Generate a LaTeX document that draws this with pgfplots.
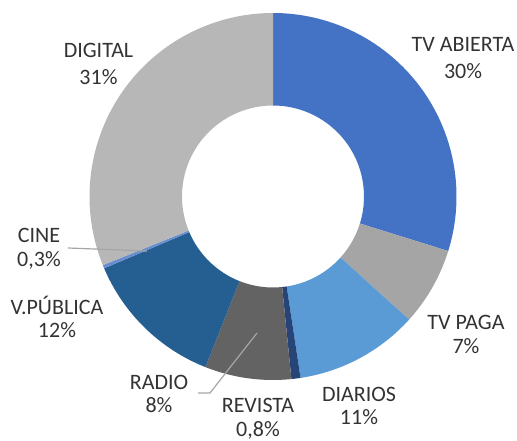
\documentclass[border=0pt]{standalone}
\usepackage{pgfplots}
\pgfplotsset{compat=1.18}
\usepackage{pgfplotstable}
\usepackage{fontspec}
\setmainfont{Carlito}

\definecolor{c1}{HTML}{4472C4}
\definecolor{c2}{HTML}{A5A5A5}
\definecolor{c3}{HTML}{5B9BD5}
\definecolor{c4}{HTML}{264478}
\definecolor{c5}{HTML}{636363}
\definecolor{c6}{HTML}{255E91}
\definecolor{c7}{HTML}{698ED0}
\definecolor{c8}{HTML}{B7B7B7}
\definecolor{txt}{HTML}{333333}
\definecolor{leader}{HTML}{A6A6A6}

\tikzset{lbl/.style={inner sep=0pt, text height=7.1pt, text depth=0pt,
    font=\fontsize{11}{12}\selectfont, text=txt}}

% share in percent, clockwise from 12 o'clock
\pgfplotstableread[col sep=comma]{
name,value,color
TV ABIERTA,29.8,c1
TV PAGA,6.9,c2
DIARIOS,10.9,c3
REVISTA,0.8,c4
RADIO,7.6,c5
V.PUBLICA,12.6,c6
CINE,0.3,c7
DIGITAL,31.1,c8
}\piedata

\newcommand{\lab}[5]{%
  \node[lbl] at (axis cs:#1,#2) {#4};
  \node[lbl] at (axis cs:#1,#3) {#5};}

\begin{document}
\begin{tikzpicture}
\path[use as bounding box] (0,0) rectangle (258.5pt,220pt);
\begin{axis}[
  hide axis,
  x=0.5pt, y=0.5pt,
  xmin=0, xmax=517, ymin=0, ymax=440,
  clip=false,
]
\pgfplotsextra{
  \pgfplotstablegetrowsof{\piedata}
  \pgfmathtruncatemacro\lastrow{\pgfplotsretval-1}
  \gdef\cum{0}
  \foreach \i in {0,...,\lastrow}{
    \pgfplotstablegetelem{\i}{value}\of\piedata
    \pgfmathsetmacro\a{90-3.6*\cum}
    \pgfmathsetmacro\newcum{\cum+\pgfplotsretval}
    \pgfmathsetmacro\b{90-3.6*\newcum}
    \xdef\cum{\newcum}
    \pgfplotstablegetelem{\i}{color}\of\piedata
    \edef\col{\pgfplotsretval}
    \fill[\col] ([shift={(\a:45.5pt)}]axis cs:273,243.5)
      -- ([shift={(\a:91.75pt)}]axis cs:273,243.5)
      arc[start angle=\a, end angle=\b, radius=91.75pt]
      -- ([shift={(\b:45.5pt)}]axis cs:273,243.5)
      arc[start angle=\b, end angle=\a, radius=45.5pt] -- cycle;
  }
}
% leader lines
\draw[leader, line width=0.6pt] (axis cs:68,192) -- (axis cs:147,189);
\draw[leader, line width=0.6pt] (axis cs:198,47) -- (axis cs:210,47) -- (axis cs:257,107);
% data labels
\lab{463}{395.5}{369}{TV ABIERTA}{30\%}
\lab{466}{117.5}{94}{TV PAGA}{7\%}
\lab{359}{46}{22.5}{DIARIOS}{11\%}
\lab{258}{35}{11}{REVISTA}{0,8\%}
\lab{159}{57.5}{34.5}{RADIO}{8\%}
\lab{57}{132.5}{109.5}{V.PÚBLICA}{12\%}
\lab{39}{204.5}{180.5}{CINE}{0,3\%}
\lab{98.5}{390}{363}{DIGITAL}{31\%}
\end{axis}
\end{tikzpicture}
\end{document}
